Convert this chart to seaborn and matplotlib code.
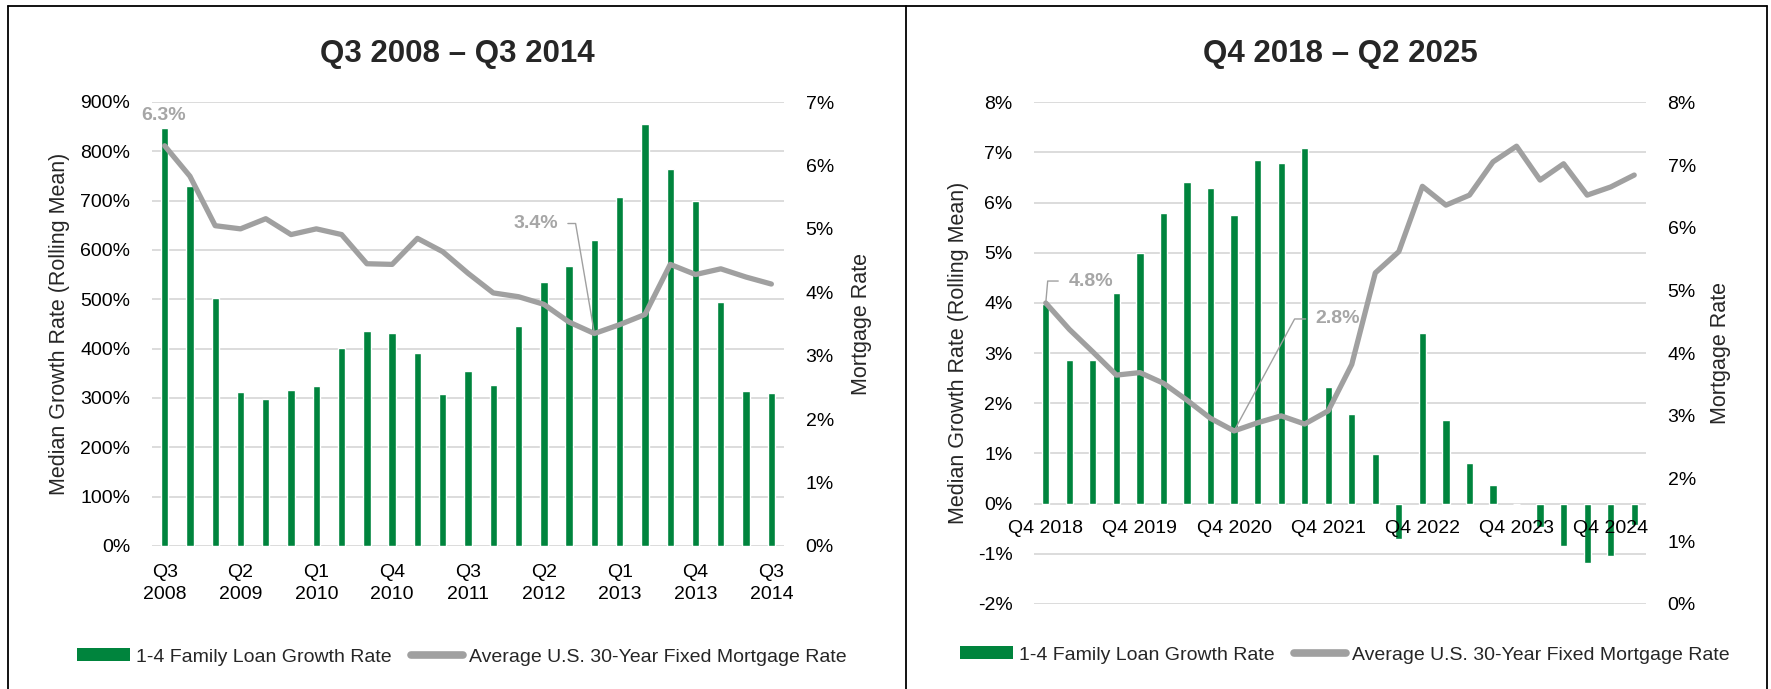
import matplotlib
matplotlib.use("Agg")
import matplotlib.pyplot as plt
import matplotlib.ticker as mticker
from matplotlib.lines import Line2D
from matplotlib.patches import Patch
import numpy as np
import seaborn as sns

# data
left_quarters = ["Q3 2008", "Q4 2008", "Q1 2009", "Q2 2009", "Q3 2009", "Q4 2009",
                 "Q1 2010", "Q2 2010", "Q3 2010", "Q4 2010", "Q1 2011", "Q2 2011",
                 "Q3 2011", "Q4 2011", "Q1 2012", "Q2 2012", "Q3 2012", "Q4 2012",
                 "Q1 2013", "Q2 2013", "Q3 2013", "Q4 2013", "Q1 2014", "Q2 2014",
                 "Q3 2014"]
left_growth = [848, 729, 502, 313, 297, 316, 325, 402, 435, 432, 391, 309, 354,
               326, 446, 535, 567, 620, 708, 856, 765, 700, 494, 314, 310]
left_rate = [6.31, 5.83, 5.05, 5.00, 5.16, 4.91, 5.00, 4.91, 4.45, 4.44, 4.85, 4.64,
             4.30, 3.99, 3.93, 3.81, 3.53, 3.35, 3.49, 3.65, 4.44, 4.28, 4.37, 4.24, 4.13]
left_ticklabels = ["Q3\n2008", "Q2\n2009", "Q1\n2010", "Q4\n2010", "Q3\n2011",
                   "Q2\n2012", "Q1\n2013", "Q4\n2013", "Q3\n2014"]

right_quarters = ["Q4 2018", "Q1 2019", "Q2 2019", "Q3 2019", "Q4 2019", "Q1 2020",
                  "Q2 2020", "Q3 2020", "Q4 2020", "Q1 2021", "Q2 2021", "Q3 2021",
                  "Q4 2021", "Q1 2022", "Q2 2022", "Q3 2022", "Q4 2022", "Q1 2023",
                  "Q2 2023", "Q3 2023", "Q4 2023", "Q1 2024", "Q2 2024", "Q3 2024",
                  "Q4 2024", "Q1 2025"]
right_growth = [3.98, 2.87, 2.87, 4.20, 5.00, 5.80, 6.41, 6.30, 5.76, 6.85, 6.79, 7.08,
                2.32, 1.79, 0.98, -0.70, 3.40, 1.66, 0.81, 0.37, 0.0, -0.46, -0.85,
                -1.19, -1.05, -0.43]
right_rate = [4.80, 4.38, 4.02, 3.65, 3.69, 3.52, 3.25, 2.96, 2.76, 2.89, 3.00, 2.87,
              3.08, 3.82, 5.28, 5.62, 6.66, 6.36, 6.52, 7.05, 7.30, 6.76, 7.02, 6.52,
              6.65, 6.84]
right_ticklabels = ["Q4 2018", "Q4 2019", "Q4 2020", "Q4 2021", "Q4 2022",
                    "Q4 2023", "Q4 2024"]

GREEN = "#00843D"
GRAY = "#A0A0A0"
LABEL_GRAY = "#A6A6A6"
GRID = "#D9D9D9"

sns.set_style("white")
plt.rcParams["font.family"] = ["Liberation Sans", "DejaVu Sans"]
plt.rcParams["axes.unicode_minus"] = False

W, H = 1771, 689
fig = plt.figure(figsize=(W / 100, H / 100), dpi=100)


def px_axes(x0, x1, ytop, ybot):
    return fig.add_axes([x0 / W, 1 - ybot / H, (x1 - x0) / W, (ybot - ytop) / H])


pct = mticker.FuncFormatter(lambda v, p: f"{v:.0f}%")


def style_panel(ax, ax2, title, title_x=0.5):
    for a in (ax, ax2):
        for s in a.spines.values():
            s.set_visible(False)
        a.tick_params(length=0, labelsize=14, colors="black")
    ax.tick_params(axis="y", pad=15.5)
    ax2.tick_params(axis="y", pad=15.5)
    ax.grid(axis="y", color=GRID, lw=1.3)
    ax.grid(axis="x", visible=False)
    ax2.grid(False)
    ax.set_axisbelow(True)
    # keep the category labels above the bars, like the original
    ax.xaxis.set_zorder(3)
    ax.yaxis.set_major_formatter(pct)
    ax2.yaxis.set_major_formatter(pct)
    ax.set_ylabel("Median Growth Rate (Rolling Mean)", fontsize=15.5)
    ax2.set_ylabel("Mortgage Rate", fontsize=15.5)
    ax.set_xlabel("")
    ax.set_title(title, fontsize=22.5, fontweight="bold", pad=29, x=title_x)


def legend(ax, cx, cy):
    handles = [Patch(facecolor=GREEN, edgecolor="none"),
               Line2D([], [], color=GRAY, lw=5.5)]
    labels = ["1-4 Family Loan Growth Rate", "Average U.S. 30-Year Fixed Mortgage Rate"]
    ax.legend(handles, labels, loc="center", bbox_to_anchor=(cx / W, 1 - cy / H),
              bbox_transform=fig.transFigure, ncol=2, frameon=False, fontsize=14,
              handlelength=2.7, handleheight=0.6, handletextpad=0.3,
              columnspacing=1.0)


def leader(ax2, text, idx, val, off, relpos=(0.5, 0.5), angleB=None):
    kw = dict(xy=(idx, val), xytext=off, textcoords="offset points",
              ha="center", va="center", fontsize=14, fontweight="bold",
              color=LABEL_GRAY, zorder=10)
    if angleB is not None:
        kw["arrowprops"] = dict(arrowstyle="-", color=GRAY, lw=1.0, shrinkA=5,
                                shrinkB=0, relpos=relpos,
                                connectionstyle=f"angle,angleA=0,angleB={angleB},rad=0")
    ax2.annotate(text, **kw)


# ---- left panel ----
ax = px_axes(152, 784, 102, 546)
sns.barplot(x=left_quarters, y=left_growth, ax=ax, color=GREEN, saturation=1,
            width=0.29)
ax2 = ax.twinx()
sns.lineplot(x=np.arange(len(left_rate)), y=left_rate, ax=ax2, color=GRAY, lw=3.8)
ax.set_ylim(0, 900)
ax.set_yticks(range(0, 901, 100))
ax2.set_ylim(0, 7)
ax2.set_yticks(range(0, 8))
ax.set_xlim(-0.5, len(left_quarters) - 0.5)
ax.set_xticks(range(0, len(left_quarters), 3))
ax.set_xticklabels(left_ticklabels, linespacing=1.35)
ax.tick_params(axis="x", pad=13)
style_panel(ax, ax2, "Q3 2008 \u2013 Q3 2014", title_x=0.5 - 11 / 632)
ax.yaxis.set_label_coords(-0.130, 0.5)
ax2.yaxis.set_label_coords(1.106, 0.5)
leader(ax2, "6.3%", 0, left_rate[0], (-0.7, 21.6))
leader(ax2, "3.4%", 17, left_rate[17], (-42.5, 79.2), relpos=(1, 0.5), angleB=99.7)
legend(ax, 462, 657)

# ---- right panel ----
ax = px_axes(1034, 1646, 102.3, 604)
sns.barplot(x=right_quarters, y=right_growth, ax=ax, color=GREEN, saturation=1,
            width=0.31)
ax2 = ax.twinx()
sns.lineplot(x=np.arange(len(right_rate)), y=right_rate, ax=ax2, color=GRAY, lw=3.8)
ax.set_ylim(-2, 8)
ax.set_yticks(range(-2, 9))
ax2.set_ylim(0, 8)
ax2.set_yticks(range(0, 9))
ax.set_xlim(-0.5, len(right_quarters) - 0.5)
ax.set_xticks(range(0, len(right_quarters), 4))
ax.set_xticklabels(right_ticklabels)
ax.spines["bottom"].set_position(("data", 0))
ax.tick_params(axis="x", pad=11.5)
style_panel(ax, ax2, "Q4 2018 \u2013 Q2 2025")
ax.yaxis.set_label_coords(-0.106, 0.5)
ax2.yaxis.set_label_coords(1.105, 0.5)
leader(ax2, "4.8%", 0, right_rate[0], (32.4, 15.8), relpos=(0, 0.5), angleB=85)
leader(ax2, "2.8%", 8, right_rate[8], (74.9, 80.6), relpos=(0, 0.5), angleB=61.6)
legend(ax, 1345, 655)

# panel borders
top = 1 - 6 / H
for xp in (8, 906, 1767):
    fig.add_artist(Line2D([xp / W, xp / W], [0, top], transform=fig.transFigure,
                          color="black", lw=1.3))
fig.add_artist(Line2D([8 / W, 1767 / W], [top, top], transform=fig.transFigure,
                      color="black", lw=1.3))

fig.savefig("out.png", dpi=100)
